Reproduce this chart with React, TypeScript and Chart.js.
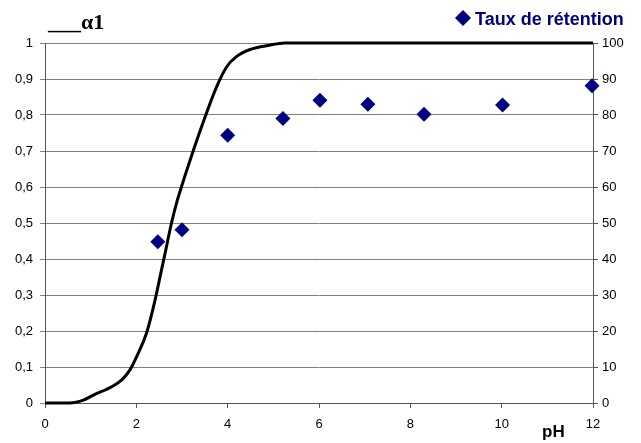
import React, { useEffect, useRef } from "react";
import { Chart, registerables } from "chart.js";

Chart.register(...registerables);

const alphaPH = [0, 0.55, 0.84, 1.06, 1.46, 1.68, 1.86, 2.04, 2.22, 2.41, 2.52, 2.63, 2.77, 2.9, 3.06, 3.43, 3.76, 3.98, 4.19, 4.49, 4.92, 5.25, 6, 8, 10, 12];
const alphaVal = [0, 0, 0.008, 0.022, 0.045, 0.064, 0.092, 0.138, 0.193, 0.286, 0.351, 0.416, 0.5, 0.564, 0.629, 0.768, 0.879, 0.934, 0.962, 0.982, 0.994, 1, 1, 1, 1, 1];

const retPH = [2.47, 3.0, 4.0, 5.21, 6.02, 7.07, 8.3, 10.02, 11.98];
const retVal = [44.8, 48.1, 74.4, 79.0, 84.1, 83.0, 80.2, 82.8, 88.1];

const seriesLabels = ["α1", "Taux de rétention"];
const xTitle = "pH";

const NAVY = "#000080";
const SANS = "'Liberation Sans', Arial, sans-serif";

const textPlugin = {
  id: "texts",
  afterDraw(chart: any) {
    const ctx = chart.ctx;
    ctx.save();
    ctx.textBaseline = "alphabetic";
    ctx.textAlign = "left";
    // alpha legend
    ctx.fillStyle = "#000";
    ctx.font = "bold 22px 'Liberation Serif', serif";
    ctx.fillText("___", 48, 29);
    ctx.fillText(seriesLabels[0], 81, 29);
    // retention legend
    ctx.fillStyle = NAVY;
    const dx = 455, dy = 18;
    ctx.beginPath();
    ctx.moveTo(dx, dy);
    ctx.lineTo(dx + 8, dy - 8);
    ctx.lineTo(dx + 16, dy);
    ctx.lineTo(dx + 8, dy + 8);
    ctx.closePath();
    ctx.fill();
    ctx.font = "bold 18px " + SANS;
    ctx.fillText(seriesLabels[1], 475, 25);
    // pH title
    ctx.fillStyle = "#000";
    ctx.font = "bold 17px " + SANS;
    ctx.fillText(xTitle, 542, 437);
    ctx.restore();
  },
};

export default function App() {
  const ref = useRef<HTMLCanvasElement>(null);
  useEffect(() => {
    document.body.style.margin = "0";
    const fmt = (v: number) => {
      const r = Math.round(v * 10) / 10;
      return String(r).replace(".", ",");
    };
    const tickFont = { family: SANS, size: 13 };
    const chart = new Chart(ref.current!, {
      type: "scatter",
      data: {
        datasets: [
          {
            label: seriesLabels[0],
            data: alphaPH.map((x, i) => ({ x, y: alphaVal[i] })),
            showLine: true,
            borderColor: "#000",
            borderWidth: 3,
            pointRadius: 0,
            cubicInterpolationMode: "monotone",
            yAxisID: "y",
            clip: false,
            order: 2,
          } as any,
          {
            label: seriesLabels[1],
            data: retPH.map((x, i) => ({ x, y: retVal[i] })),
            showLine: false,
            pointStyle: "rectRot",
            pointRadius: 7.5,
            backgroundColor: NAVY,
            borderColor: NAVY,
            borderWidth: 0,
            yAxisID: "y2",
            clip: false,
            order: 1,
          } as any,
        ],
      },
      options: {
        animation: false,
        responsive: false,
        devicePixelRatio: 1,
        layout: { padding: { top: 43, left: 0, right: 0, bottom: 0 } },
        plugins: { legend: { display: false }, tooltip: { enabled: false } },
        scales: {
          x: {
            type: "linear",
            min: 0,
            max: 12,
            ticks: { stepSize: 2, color: "#000", font: tickFont, padding: 9 },
            grid: { display: true, drawOnChartArea: false, drawTicks: true, tickLength: 5, color: "#555" },
            border: { color: "#555", width: 1 },
            afterFit: (s: any) => { s.height = 40; },
          },
          y: {
            position: "left",
            min: 0,
            max: 1,
            ticks: { stepSize: 0.1, color: "#000", font: tickFont, padding: 7, callback: (v: any) => fmt(Number(v)) },
            grid: { color: "#808080", lineWidth: 1, tickLength: 5 },
            border: { color: "#555", width: 1 },
            afterFit: (s: any) => { s.width = 45; },
          },
          y2: {
            position: "right",
            min: 0,
            max: 100,
            ticks: { stepSize: 10, color: "#000", font: tickFont, padding: 4 },
            grid: { drawOnChartArea: false, tickLength: 5, color: "#555" },
            border: { color: "#555", width: 1 },
            afterFit: (s: any) => { s.width = 48; },
          },
        },
      },
      plugins: [textPlugin],
    });
    return () => chart.destroy();
  }, []);
  return (
    <div style={{ width: 641, height: 443, background: "#fff" }}>
      <canvas ref={ref} width={641} height={443} style={{ display: "block" }} />
    </div>
  );
}
